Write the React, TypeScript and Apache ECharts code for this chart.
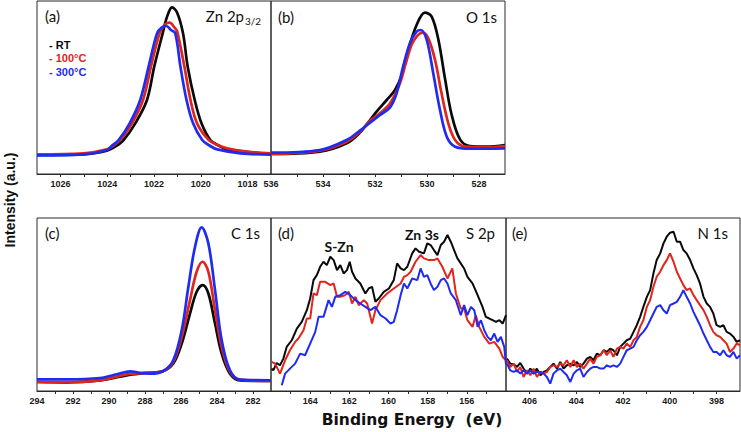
import React, { useEffect, useRef } from "react";
import * as echarts from "echarts";

// ---- Panel (a) Zn 2p3/2 : [binding energy eV, intensity a.u.]
const zn2pRT = [[1027.0,57],[1025.01,59],[1024.01,70],[1023.66,82],[1023.3,102],[1022.8,152],[1022.3,222],[1021.99,322],[1021.63,422],[1021.44,472],[1021.23,500],[1021.01,484],[1020.76,422],[1020.56,322],[1020.26,222],[1019.97,152],[1019.59,102],[1019.2,84],[1018.87,74],[1017.73,64],[1017.01,60]];
const zn2p100 = [[1027.0,59],[1025.01,62],[1024.01,74],[1023.72,86],[1023.44,102],[1022.94,152],[1022.47,222],[1022.13,322],[1021.76,422],[1021.51,450],[1021.33,454],[1021.13,440],[1021.01,428],[1020.7,322],[1020.44,222],[1020.16,152],[1019.66,102],[1019.25,86],[1018.87,77],[1018.01,67],[1017.01,62]];
const zn2p300 = [[1027.0,56],[1025.01,59],[1024.01,72],[1023.78,86],[1023.51,102],[1023.04,152],[1022.59,222],[1022.23,322],[1021.87,422],[1021.66,440],[1021.47,444],[1021.27,432],[1021.09,422],[1020.87,322],[1020.61,222],[1020.33,152],[1019.94,102],[1019.6,84],[1019.3,74],[1018.3,62],[1017.01,58]];

// ---- Panel (b) O 1s
const o1sRT = [[536.0,60],[534.12,67],[533.09,92],[532.58,124],[532.19,162],[531.94,187],[531.55,222],[531.23,252],[530.97,297],[530.72,372],[530.4,447],[530.08,484],[529.82,472],[529.56,402],[529.31,287],[529.05,177],[528.73,104],[528.35,84],[527.71,82],[527.0,87]];
const o1s100 = [[536.0,60],[534.12,70],[533.09,97],[532.58,127],[532.19,160],[531.81,182],[531.42,212],[531.04,272],[530.78,342],[530.53,397],[530.17,424],[529.95,407],[529.69,342],[529.44,242],[529.18,152],[528.92,102],[528.54,82],[527.71,80],[527.0,84]];
const o1s300 = [[536.0,64],[534.12,72],[533.09,102],[532.58,130],[532.19,154],[531.81,177],[531.42,200],[531.17,242],[530.92,322],[530.65,394],[530.4,427],[530.24,432],[530.01,402],[529.76,302],[529.5,192],[529.24,112],[528.92,82],[528.35,76],[527.0,77]];

// ---- Panel (c) C 1s
const c1sRT = [[294.0,27],[292.35,26],[290.5,32],[289.02,47],[287.91,54],[286.98,60],[286.43,82],[285.96,142],[285.5,232],[285.13,297],[284.8,317],[284.48,292],[284.11,202],[283.74,112],[283.28,52],[282.72,32],[281.02,30]];
const c1s100 = [[294.0,27],[292.35,27],[290.5,32],[289.02,50],[287.91,54],[286.98,60],[286.43,87],[285.96,162],[285.5,272],[285.13,357],[284.8,387],[284.48,357],[284.11,242],[283.74,132],[283.28,57],[282.72,34],[281.02,30]];
const c1s300 = [[294.0,35],[292.35,35],[290.5,39],[289.57,50],[288.83,59],[288.28,54],[287.72,52],[286.98,60],[286.43,92],[285.96,182],[285.59,312],[285.22,432],[284.85,490],[284.48,442],[284.11,302],[283.74,152],[283.28,62],[282.72,34],[281.02,32]];

// ---- Panel (d) S 2p / Zn 3s
const s2pRT = [[165.97,67],[165.88,62],[165.71,84],[165.54,77],[165.37,97],[165.2,132],[164.94,152],[164.68,187],[164.43,207],[164.17,242],[164.0,277],[163.83,332],[163.66,347],[163.49,372],[163.32,387],[163.15,377],[162.97,402],[162.8,392],[162.63,362],[162.46,377],[162.29,352],[162.12,362],[161.98,387],[161.86,357],[161.69,337],[161.44,322],[161.18,292],[161.01,307],[160.84,312],[160.67,267],[160.5,277],[160.24,297],[159.98,307],[159.73,332],[159.56,382],[159.38,367],[159.21,362],[159.04,372],[158.79,412],[158.62,427],[158.44,417],[158.19,412],[158.02,442],[157.85,437],[157.68,422],[157.5,407],[157.33,437],[157.16,447],[156.99,467],[156.82,447],[156.65,422],[156.48,397],[156.31,382],[156.14,367],[155.97,342],[155.71,322],[155.45,287],[155.2,252],[155.03,222],[154.85,217],[154.68,212],[154.51,207],[154.34,212],[154.17,202],[154.0,227]];
const s2p100 = [[165.97,87],[165.79,82],[165.54,52],[165.28,92],[165.03,122],[164.77,147],[164.6,157],[164.34,182],[164.17,217],[164.0,217],[163.83,292],[163.66,287],[163.49,327],[163.23,327],[162.97,317],[162.8,322],[162.63,282],[162.46,282],[162.21,287],[162.03,297],[161.86,262],[161.69,282],[161.52,257],[161.26,272],[161.09,262],[160.84,202],[160.67,242],[160.41,272],[160.07,292],[159.73,307],[159.38,322],[159.21,342],[159.04,347],[158.87,357],[158.62,387],[158.36,407],[158.19,397],[157.93,392],[157.68,392],[157.5,397],[157.25,372],[156.99,337],[156.74,367],[156.56,292],[156.31,247],[156.14,247],[155.97,212],[155.71,192],[155.54,227],[155.37,192],[155.11,162],[154.85,142],[154.6,147],[154.34,127],[154.17,102],[154.0,92]];
const s2p300 = [[165.45,17],[165.28,52],[165.03,67],[164.77,82],[164.51,112],[164.26,107],[164.0,142],[163.74,177],[163.57,222],[163.32,222],[163.06,272],[162.89,252],[162.72,282],[162.46,287],[162.21,297],[161.95,287],[161.69,272],[161.44,262],[161.18,252],[160.92,242],[160.67,252],[160.41,227],[160.15,217],[159.9,202],[159.73,207],[159.56,242],[159.38,287],[159.21,322],[159.04,307],[158.79,337],[158.53,332],[158.36,367],[158.19,342],[158.02,347],[157.85,322],[157.68,302],[157.5,312],[157.33,332],[157.16,337],[156.99,322],[156.82,292],[156.56,272],[156.31,227],[156.14,257],[155.97,227],[155.79,252],[155.62,242],[155.45,192],[155.28,212],[155.11,182],[154.94,162],[154.77,152],[154.6,172],[154.43,147],[154.26,162],[154.09,132],[154.0,80]];

// ---- Panel (e) N 1s (shared energy grid)
const n1sEnergy = [406.96,406.82,406.67,406.53,406.39,406.25,406.10,405.96,405.82,405.68,405.53,405.39,405.25,405.11,404.97,404.82,404.68,404.54,404.40,404.25,404.11,403.97,403.83,403.69,403.54,403.40,403.26,403.12,402.97,402.83,402.69,402.55,402.41,402.26,402.12,401.98,401.84,401.69,401.55,401.41,401.27,401.13,400.98,400.84,400.70,400.56,400.41,400.27,400.13,399.99,399.84,399.70,399.56,399.42,399.28,399.13,398.99,398.85,398.71,398.56,398.42,398.28,398.14,398.00,397.85,397.71,397.57,397.43,397.28,397.14,397.00];
const n1sRT = [97,82,80,72,84,67,52,67,52,67,47,57,62,72,82,67,87,67,77,82,77,87,72,82,97,102,92,112,107,122,117,127,122,107,132,142,152,157,177,197,222,252,282,302,352,392,412,442,462,474,477,447,447,422,412,392,367,347,322,282,262,252,232,197,192,197,177,172,162,147,152];
const n1s100 = [92,72,82,57,72,42,62,47,67,42,57,52,57,72,77,72,82,77,92,72,92,72,82,67,82,97,82,102,107,122,107,122,102,127,132,127,142,132,152,162,192,212,252,272,312,342,357,377,392,412,387,357,337,317,302,307,287,272,257,242,222,197,177,167,162,152,142,117,127,142,137];
const n1s300 = [82,62,57,62,52,62,52,62,52,57,57,52,42,22,52,62,67,57,47,27,52,62,67,42,57,67,72,72,67,67,77,72,77,72,82,102,122,127,132,152,167,177,192,212,232,252,257,242,232,257,262,267,282,302,282,262,237,217,197,172,152,132,117,117,107,122,107,102,117,97,107];

// ---- Axis tick labels
const aLabels = [1026, 1024, 1022, 1020, 1018];
const bLabels = [536, 534, 532, 530, 528];
const cLabels = [294, 292, 290, 288, 286, 284, 282];
const dLabels = [164, 162, 160, 158, 156];
const eLabels = [406, 404, 402, 400, 398];

const seriesNames = ["RT", "100°C", "300°C"];
const colors = ["#0a0a0a", "#e0251c", "#1f2cf0"];

function intRange(a: number, b: number) {
  const out: number[] = [];
  for (let v = Math.ceil(a); v <= b; v++) out.push(v);
  return out;
}

export default function App() {
  const ref = useRef<HTMLDivElement>(null);
  useEffect(() => {
    if (!ref.current) return;
    const chart = echarts.init(ref.current, undefined, { renderer: "svg" });

    const panels = [
      { grid: { left: 37, top: 1, width: 234, height: 173 }, min: 1017, max: 1027, ymax: 519, labels: aLabels, data: [zn2pRT, zn2p100, zn2p300], smooth: true, w: 2.7 },
      { grid: { left: 271, top: 1, width: 234, height: 173 }, min: 527, max: 536, ymax: 519, labels: bLabels, data: [o1sRT, o1s100, o1s300], smooth: true, w: 2.7 },
      { grid: { left: 37, top: 218, width: 234, height: 173 }, min: 281, max: 294, ymax: 518, labels: cLabels, data: [c1sRT, c1s100, c1s300], smooth: true, w: 2.7 },
      { grid: { left: 271, top: 218, width: 235, height: 173 }, min: 154, max: 166, ymax: 518, labels: dLabels, data: [s2pRT, s2p100, s2p300], smooth: false, w: 2 },
      {
        grid: { left: 506, top: 218, width: 234, height: 173 }, min: 397, max: 407, ymax: 518, labels: eLabels,
        data: [n1sRT, n1s100, n1s300].map((arr) => arr.map((v, i) => [n1sEnergy[i], v])), smooth: false, w: 2,
      },
    ];

    const grids = panels.map((p) => ({
      ...p.grid,
      show: true,
      borderColor: "#2a2a2a",
      borderWidth: 1,
      containLabel: false,
    }));
    const xAxes = panels.map((p, i) => ({
      type: "value",
      gridIndex: i,
      min: p.min,
      max: p.max,
      inverse: true,
      axisLine: { show: true, onZero: false, lineStyle: { color: "#2a2a2a", width: 1 } },
      axisTick: {
        show: true,
        inside: false,
        length: 3,
        customValues: intRange(p.min + 1, p.max - 1),
        lineStyle: { color: "#2a2a2a" },
      },
      axisLabel: {
        customValues: p.labels,
        formatter: (v: number) => String(v),
        fontSize: 9,
        fontWeight: "bold",
        fontFamily: "Liberation Sans, Arial, sans-serif",
        color: "#1a1a1a",
        margin: 5,
      },
      splitLine: { show: false },
    }));
    const yAxes = panels.map((p, i) => ({
      type: "value",
      gridIndex: i,
      min: 0,
      max: p.ymax,
      show: false,
      splitLine: { show: false },
    }));
    const series: any[] = [];
    panels.forEach((p, i) => {
      p.data.forEach((d, k) => {
        series.push({
          type: "line",
          name: seriesNames[k],
          xAxisIndex: i,
          yAxisIndex: i,
          data: d,
          showSymbol: false,
          smooth: p.smooth ? 0.35 : false,
          lineStyle: { color: colors[k], width: p.w },
          itemStyle: { color: colors[k] },
          z: 2 + k,
        });
      });
    });

    const panelFont = "15px Lato, 'Open Sans', sans-serif";
    const txt = (text: string, x: number, y: number, align: string, font: string, fill = "#111") => ({
      type: "text",
      x,
      y,
      style: { text, font, fill, textAlign: align, textVerticalAlign: "middle" },
      z: 100,
    });

    const graphics: any[] = [
      txt("(a)", 45, 16, "left", panelFont),
      txt("Zn 2p", 244, 16, "right", panelFont),
      txt("3/2", 245, 21, "left", "10px Lato, 'Open Sans', sans-serif"),
      txt("(b)", 278, 17, "left", panelFont),
      txt("O 1s", 497, 17, "right", panelFont),
      txt("(c)", 45, 233, "left", panelFont),
      txt("C 1s", 260, 233, "right", panelFont),
      txt("(d)", 278, 233, "left", panelFont),
      txt("S 2p", 495, 233, "right", panelFont),
      txt("(e)", 512, 233, "left", panelFont),
      txt("N 1s", 728, 233, "right", panelFont),
      txt("S-Zn", 339, 246, "center", "bold 14px Lato, 'Open Sans', sans-serif"),
      txt("Zn 3s", 422, 234, "center", "bold 14px Lato, 'Open Sans', sans-serif"),
      txt("- " + seriesNames[0], 49, 45, "left", "bold 11px 'Liberation Sans', Arial, sans-serif", colors[0]),
      txt("- " + seriesNames[1], 49, 58, "left", "bold 11px 'Liberation Sans', Arial, sans-serif", colors[1]),
      txt("- " + seriesNames[2], 49, 72, "left", "bold 11px 'Liberation Sans', Arial, sans-serif", colors[2]),
      txt("Binding Energy  (eV)", 412, 420, "center", "bold 15.5px 'DejaVu Sans', Verdana, sans-serif"),
      {
        type: "text",
        x: 10,
        y: 200,
        rotation: Math.PI / 2,
        style: {
          text: "Intensity (a.u.)",
          font: "bold 14px 'Liberation Sans', Arial, sans-serif",
          fill: "#111",
          textAlign: "center",
          textVerticalAlign: "middle",
        },
        z: 100,
      },
    ];

    chart.setOption({
      animation: false,
      backgroundColor: "#ffffff",
      grid: grids,
      xAxis: xAxes,
      yAxis: yAxes,
      series,
      graphic: graphics,
    });
    return () => chart.dispose();
  }, []);
  return (
    <div
      ref={ref}
      style={{ position: "absolute", left: 0, top: 0, width: 741, height: 432 }}
    />
  );
}
